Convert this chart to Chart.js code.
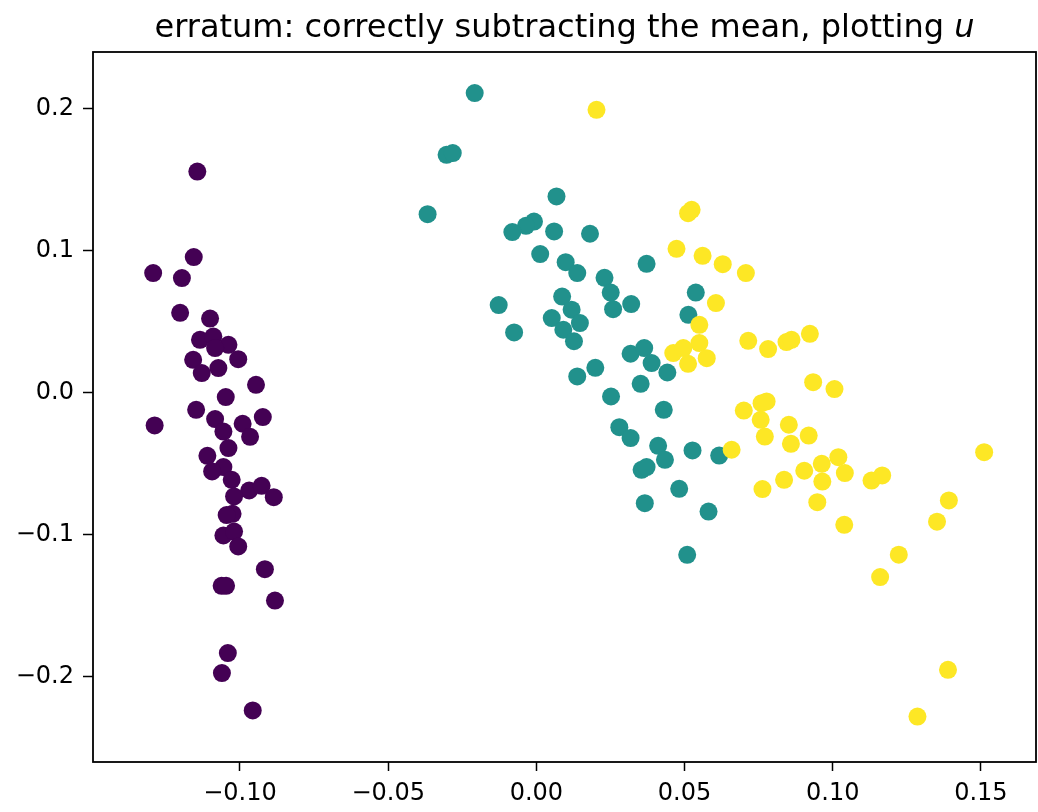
<!DOCTYPE html>
<html lang="en">
  <head>
    <meta charset="UTF-8" />
    <title>erratum scatter</title>
    <script src="https://cdn.jsdelivr.net/npm/chart.js"></script>
    <style>
      body { margin: 0; background: #fff; }
      #wrap { position: relative; width: 1038px; height: 812px; }
      #title {
        position: absolute; left: 93px; width: 943px; top: 10px;
        text-align: center; font: 32px "DejaVu Sans", sans-serif; line-height: 1; color: #000;
        white-space: nowrap;
      }
      canvas { position: absolute; left: 0; top: 0; }
    </style>
  </head>
  <body>
    <div id="wrap">
      <canvas id="chart" width="1038" height="812"></canvas>
      <div id="title">erratum: correctly subtracting the mean, plotting <i>u</i></div>
    </div>

    <script>
      // cluster 0 (purple)
      const purpleX = [-0.1144, -0.1156, -0.1293, -0.1196, -0.1202, -0.1101, -0.1135, -0.1090, -0.1039, -0.1084,
        -0.1158, -0.1006, -0.1073, -0.1129, -0.0946, -0.1048, -0.1148, -0.0923, -0.1288, -0.1084,
        -0.0991, -0.1056, -0.0966, -0.1039, -0.1110, -0.1056, -0.1094, -0.1028, -0.0969, -0.0927,
        -0.1020, -0.0886, -0.1025, -0.1045, -0.1056, -0.1020, -0.1006, -0.0916, -0.1062, -0.1047,
        -0.0882, -0.1041, -0.1061, -0.0957];
      const purpleY = [0.1558, 0.0956, 0.0843, 0.0808, 0.0563, 0.0523, 0.0373, 0.0396, 0.0338, 0.0315,
        0.0232, 0.0237, 0.0174, 0.0139, 0.0056, -0.0030, -0.0120, -0.0171, -0.0230, -0.0185,
        -0.0218, -0.0273, -0.0310, -0.0389, -0.0444, -0.0523, -0.0554, -0.0613, -0.0688, -0.0655,
        -0.0730, -0.0735, -0.0852, -0.0861, -0.1005, -0.0977, -0.1082, -0.1242, -0.1359, -0.1359,
        -0.1463, -0.1833, -0.1974, -0.2237];

      // cluster 1 (teal)
      const tealX = [-0.0208, -0.0303, -0.0282, -0.0367, 0.0068, -0.0008, -0.0035, -0.0081, 0.0060, 0.0181,
        0.0013, 0.0099, 0.0138, 0.0372, 0.0230, 0.0251, 0.0320, 0.0259, 0.0087, -0.0127,
        0.0119, 0.0052, 0.0147, 0.0091, -0.0075, 0.0127, 0.0538, 0.0513, 0.0318, 0.0364,
        0.0389, 0.0442, 0.0138, 0.0199, 0.0352, 0.0252, 0.0430, 0.0280, 0.0318, 0.0411,
        0.0434, 0.0527, 0.0617, 0.0355, 0.0372, 0.0482, 0.0366, 0.0581, 0.0509];
      const tealY = [0.2111, 0.1676, 0.1688, 0.1258, 0.1383, 0.1206, 0.1176, 0.1132, 0.1136, 0.1120,
        0.0977, 0.0920, 0.0843, 0.0908, 0.0810, 0.0706, 0.0625, 0.0589, 0.0678, 0.0618,
        0.0585, 0.0526, 0.0491, 0.0444, 0.0425, 0.0363, 0.0706, 0.0549, 0.0275, 0.0315,
        0.0209, 0.0143, 0.0115, 0.0176, 0.0063, -0.0026, -0.0120, -0.0242, -0.0319, -0.0373,
        -0.0472, -0.0406, -0.0442, -0.0542, -0.0523, -0.0676, -0.0777, -0.0836, -0.1141];

      // cluster 2 (yellow)
      const yellowX = [0.0203, 0.0524, 0.0512, 0.0473, 0.0561, 0.0629, 0.0707, 0.0606, 0.0550, 0.0550,
        0.0575, 0.0462, 0.0496, 0.0512, 0.0715, 0.0782, 0.0844, 0.0861, 0.0923, 0.0934,
        0.1006, 0.0700, 0.0760, 0.0777, 0.0757, 0.0852, 0.0771, 0.0859, 0.0919, 0.0659,
        0.1019, 0.0963, 0.1041, 0.0904, 0.0965, 0.0836, 0.0763, 0.1131, 0.1167, 0.1511,
        0.0948, 0.1039, 0.1392, 0.1352, 0.1223, 0.1160, 0.1389, 0.1286];
      const yellowY = [0.1993, 0.1289, 0.1265, 0.1014, 0.0965, 0.0906, 0.0843, 0.0632, 0.0479, 0.0350,
        0.0244, 0.0280, 0.0315, 0.0204, 0.0366, 0.0308, 0.0357, 0.0373, 0.0415, 0.0075,
        0.0026, -0.0125, -0.0073, -0.0061, -0.0190, -0.0225, -0.0308, -0.0359, -0.0301, -0.0401,
        -0.0453, -0.0500, -0.0565, -0.0549, -0.0625, -0.0613, -0.0678, -0.0618, -0.0582, -0.0418,
        -0.0770, -0.0930, -0.0758, -0.0908, -0.1140, -0.1298, -0.1951, -0.2280];

      const xTicks = [-0.10, -0.05, 0.00, 0.05, 0.10, 0.15];
      const yTicks = [-0.2, -0.1, 0.0, 0.1, 0.2];

      function pts(xs, ys) {
        return xs.map((x, i) => ({ x: x, y: ys[i] }));
      }
      function fmt(v, d) {
        const s = Math.abs(v).toFixed(d);
        return (v < -1e-9 ? "\u2212" : "") + s;
      }

      const frame = {
        id: "frame",
        afterDraw(chart) {
          const a = chart.chartArea;
          const ctx = chart.ctx;
          ctx.save();
          ctx.strokeStyle = "#000";
          ctx.lineWidth = 1.8;
          ctx.strokeRect(a.left, a.top, a.right - a.left, a.bottom - a.top);
          ctx.restore();
        },
      };

      const tickFont = { family: "DejaVu Sans", size: 24 };

      new Chart(document.getElementById("chart"), {
        type: "scatter",
        data: {
          datasets: [
            { data: pts(yellowX, yellowY), backgroundColor: "#fde725", order: 0 },
            { data: pts(tealX, tealY), backgroundColor: "#21918c", order: 1 },
            { data: pts(purpleX, purpleY), backgroundColor: "#440154", order: 2 },
          ],
        },
        options: {
          responsive: false,
          animation: false,
          events: [],
          layout: { autoPadding: false, padding: { top: 52, right: 2, left: 0, bottom: 0 } },
          elements: { point: { radius: 9, borderWidth: 0 } },
          plugins: { legend: { display: false }, tooltip: { enabled: false }, title: { display: false } },
          scales: {
            x: {
              type: "linear",
              min: -0.1496,
              max: 0.1686,
              afterBuildTicks: (s) => { s.ticks = xTicks.map((v) => ({ value: v })); },
              afterFit: (s) => { s.height = 50; s.paddingLeft = 0; s.paddingRight = 0; },
              border: { display: false },
              grid: { drawOnChartArea: false, drawTicks: true, tickLength: 9, tickWidth: 1.5, tickColor: "#000" },
              ticks: { color: "#000", font: tickFont, padding: 8, maxRotation: 0, callback: (v) => fmt(v, 2) },
            },
            y: {
              type: "linear",
              min: -0.26,
              max: 0.24,
              afterBuildTicks: (s) => { s.ticks = yTicks.map((v) => ({ value: v })); },
              afterFit: (s) => { s.width = 93; s.paddingTop = 0; s.paddingBottom = 0; },
              border: { display: false },
              grid: { drawOnChartArea: false, drawTicks: true, tickLength: 10, tickWidth: 1.5, tickColor: "#000" },
              ticks: { color: "#000", font: tickFont, padding: 9, callback: (v) => fmt(v, 1) },
            },
          },
        },
        plugins: [frame],
      });
    </script>
  </body>
</html>
